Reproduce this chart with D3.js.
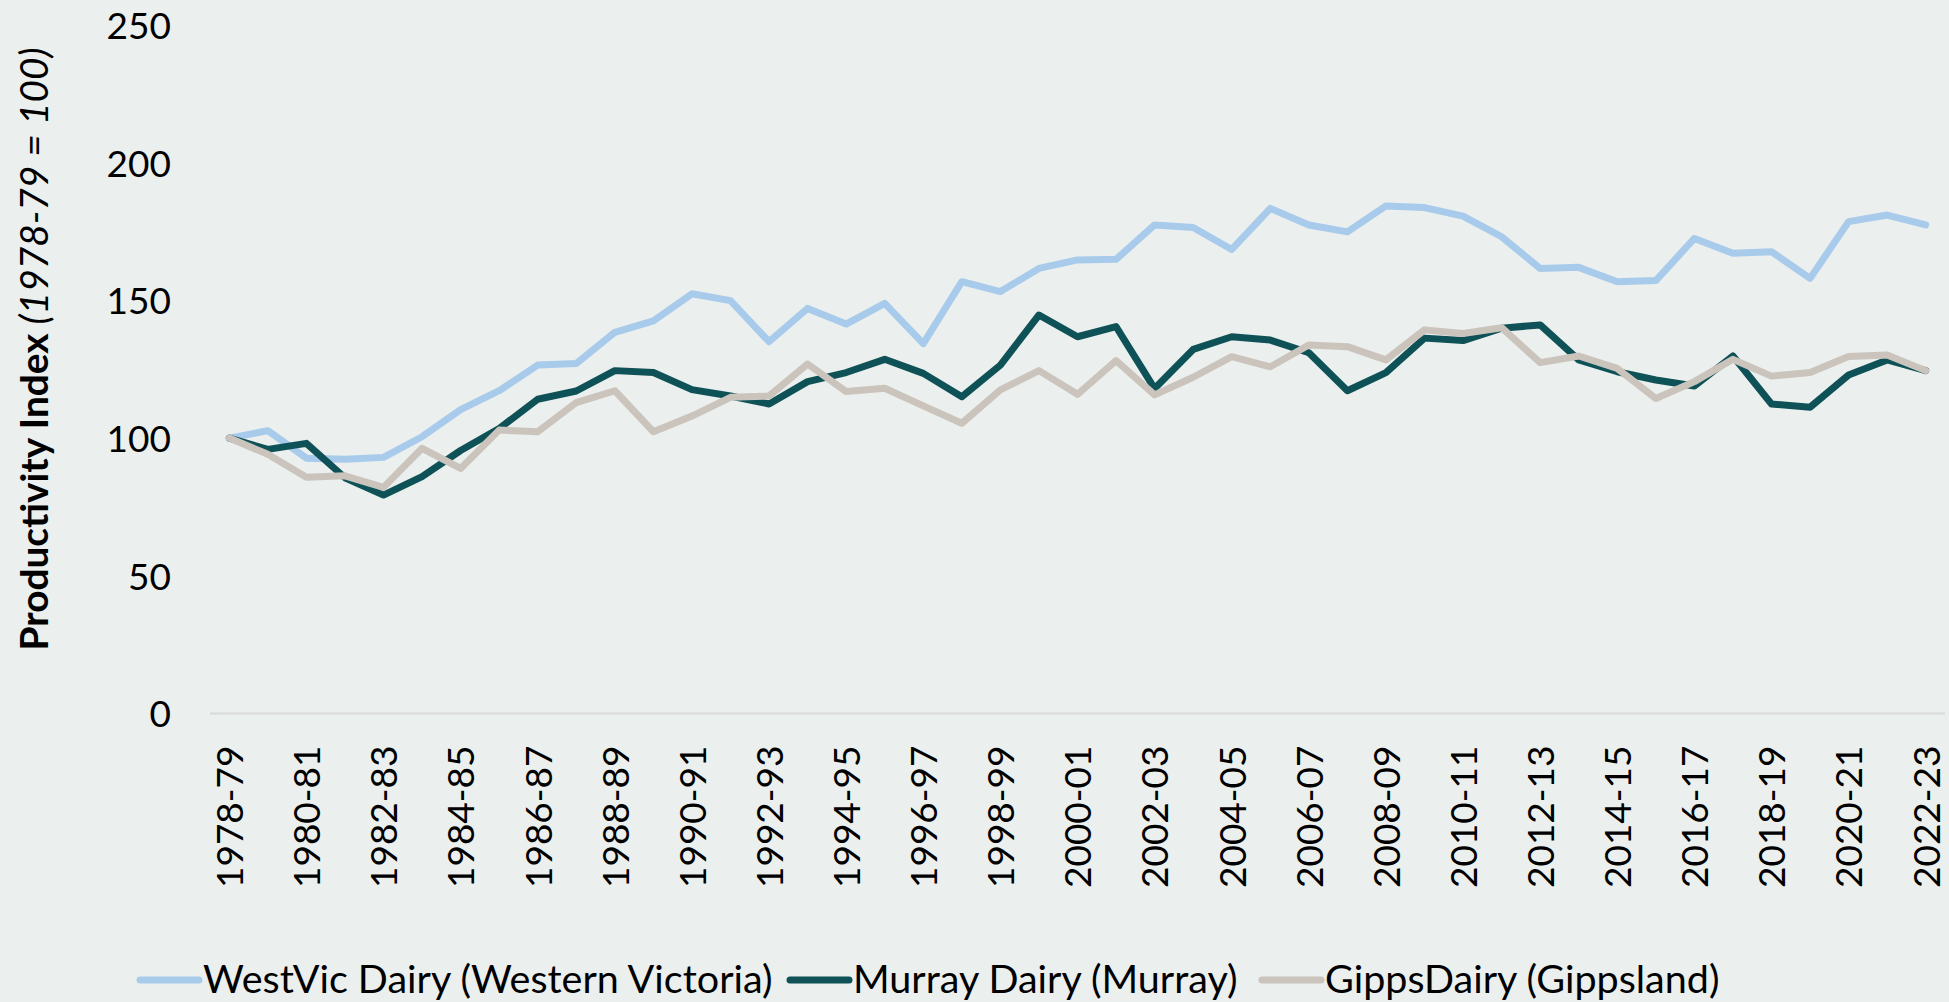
<!DOCTYPE html>
<html>
<head>
<meta charset="utf-8">
<script src="https://cdn.jsdelivr.net/npm/d3@7"></script>
<style>
  html, body { margin: 0; padding: 0; background: #EBEFED; }
  svg { display: block; }
  text { font-family: Lato, "Open Sans", sans-serif; fill: #000; }
</style>
</head>
<body>
<svg id="chart" width="1949" height="1002"></svg>
<script>
const categories = ["1978-79","1979-80","1980-81","1981-82","1982-83","1983-84","1984-85","1985-86","1986-87","1987-88","1988-89","1989-90","1990-91","1991-92","1992-93","1993-94","1994-95","1995-96","1996-97","1997-98","1998-99","1999-00","2000-01","2001-02","2002-03","2003-04","2004-05","2005-06","2006-07","2007-08","2008-09","2009-10","2010-11","2011-12","2012-13","2013-14","2014-15","2015-16","2016-17","2017-18","2018-19","2019-20","2020-21","2021-22","2022-23"];

const westVic = [100,102.7,92.7,92.3,93.0,100.5,110.3,117.2,126.5,127.1,138.4,142.6,152.4,149.9,135.0,147.1,141.4,148.9,134.3,156.8,153.2,161.6,164.7,164.9,177.4,176.5,168.5,183.4,177.4,174.9,184.3,183.7,180.6,173.1,161.6,162.0,156.8,157.2,172.5,167.1,167.7,158.0,178.6,181.0,177.4];
const murray = [100,95.9,98.1,85.6,79.3,86.0,95.5,103.5,114.1,117.1,124.5,123.8,117.6,115.3,112.4,120.5,123.8,128.6,123.5,115.0,126.5,144.7,136.8,140.5,118.0,132.2,136.8,135.6,131.0,117.2,123.8,136.3,135.4,139.9,141.1,128.4,124.1,121.1,118.9,129.8,112.4,111.2,122.9,128.4,124.5];
const gipps = [100,94.1,85.8,86.3,82.1,96.3,89.0,102.9,102.3,112.9,117.2,102.3,108.0,114.8,115.3,126.9,116.9,118.1,111.7,105.4,117.5,124.5,115.9,128.1,115.7,122.1,129.6,125.9,133.8,133.2,128.4,139.3,138.0,140.1,127.4,129.8,125.3,114.4,120.5,128.6,122.5,123.8,129.6,130.2,124.5];

const seriesNames = ["WestVic Dairy (Western Victoria)", "Murray Dairy (Murray)", "GippsDairy (Gippsland)"];
const seriesColors = ["#A8CBEC", "#0E5257", "#CBC4BD"];
const yTicks = [0, 50, 100, 150, 200, 250];
const xTickLabels = categories.filter((d, i) => i % 2 === 0);

const series = [westVic, murray, gipps].map((vals, k) => ({
  name: seriesNames[k], color: seriesColors[k], values: vals
}));

const svg = d3.select("#chart");
const plotLeft = 210, plotRight = 1945, plotTop = 25, plotBottom = 713.5;

const x = d3.scalePoint().domain(categories).range([plotLeft, plotRight]).padding(0.5);
const y = d3.scaleLinear().domain([0, 250]).range([plotBottom, plotTop]);

const fs = 37;

// Y axis (labels only)
const yAxis = svg.append("g")
  .attr("transform", `translate(${171},0)`)
  .call(d3.axisLeft(y).tickValues(yTicks).tickSize(0).tickPadding(0));
yAxis.select(".domain").remove();
yAxis.selectAll("text")
  .attr("font-size", fs)
  .attr("font-family", "Lato, 'Open Sans', sans-serif")
  .attr("fill", "#000")
  .attr("dy", "0.36em");

// X axis baseline
svg.append("line")
  .attr("x1", plotLeft).attr("x2", plotRight)
  .attr("y1", y(0)).attr("y2", y(0))
  .attr("stroke", "#D9D9D9").attr("stroke-width", 2);

// X axis labels
const xAxis = svg.append("g")
  .attr("transform", `translate(0,${y(0)})`)
  .call(d3.axisBottom(x).tickValues(xTickLabels).tickSize(0).tickPadding(0));
xAxis.select(".domain").remove();
xAxis.selectAll("text")
  .attr("font-size", fs)
  .attr("font-family", "Lato, 'Open Sans', sans-serif")
  .attr("fill", "#000")
  .attr("text-anchor", "end")
  .attr("transform", "rotate(-90)")
  .attr("x", -32)
  .attr("y", 0)
  .attr("dy", "0.36em");

// Lines
const line = d3.line()
  .x((d, i) => x(categories[i]))
  .y(d => y(d));

svg.append("g").selectAll("path")
  .data(series)
  .join("path")
  .attr("d", d => line(d.values))
  .attr("fill", "none")
  .attr("stroke", d => d.color)
  .attr("stroke-width", 7)
  .attr("stroke-linejoin", "round")
  .attr("stroke-linecap", "round");

// Y axis title
const yTitle = svg.append("text")
  .attr("transform", `translate(48,349) rotate(-90)`)
  .attr("text-anchor", "middle")
  .attr("font-size", 38.8);
yTitle.append("tspan").attr("font-weight", "bold").text("Productivity Index");
yTitle.append("tspan").attr("font-style", "italic").text(" (1978-79 = 100)");

// Legend
const legendX = [140, 790, 1262];
const legend = svg.append("g");
series.forEach((s, k) => {
  legend.append("line")
    .attr("x1", legendX[k]).attr("x2", legendX[k] + 59)
    .attr("y1", 980).attr("y2", 980)
    .attr("stroke", s.color).attr("stroke-width", 7)
    .attr("stroke-linecap", "round");
  legend.append("text")
    .attr("x", legendX[k] + 63)
    .attr("y", 993)
    .attr("font-size", 39.5)
    .text(s.name);
});
</script>
</body>
</html>
